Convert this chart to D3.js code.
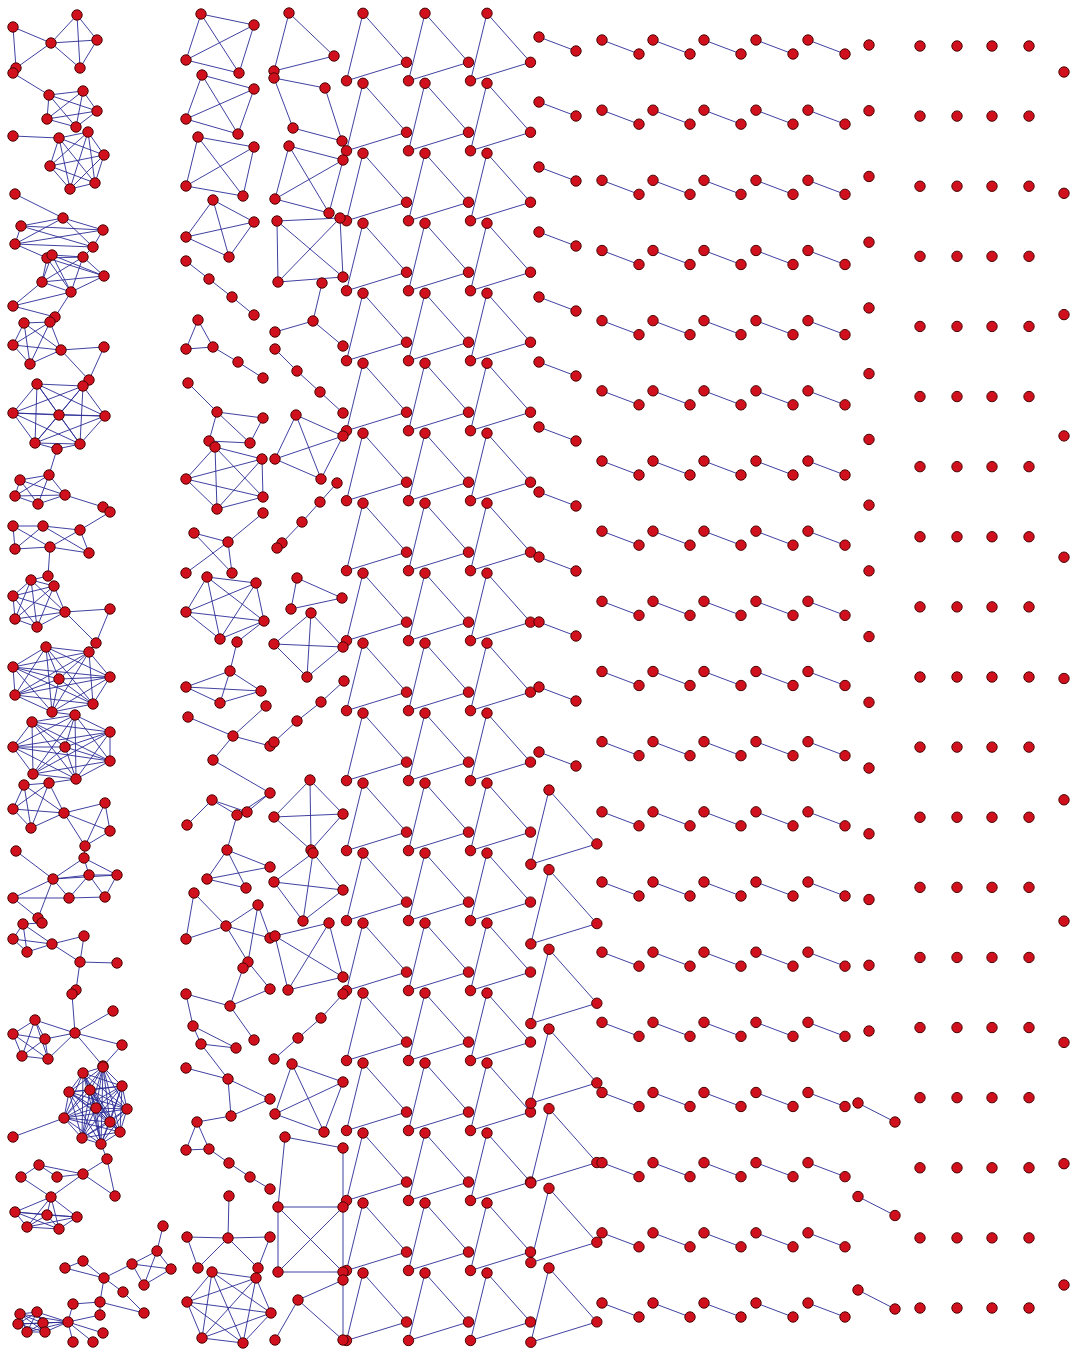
<!DOCTYPE html>
<html>
<head>
<meta charset="utf-8">
<script src="https://cdn.jsdelivr.net/npm/d3@7"></script>
<style>
  body { margin: 0; background: #fff; }
  svg { display: block; }
</style>
</head>
<body>
<svg id="chart"></svg>
<script>
const width = 1072, height = 1351;

// ---- data -------------------------------------------------------------
// regular part of the graph: how many components of each kind per column
const triangleColumnCounts = [19, 19, 19, 7];
const dyadColumnCounts = [12, 19, 19, 19, 19, 19, 3];
const isolateColumnCounts = [16, 19, 19, 19, 19, 11];

// irregular components: node layout coordinates "x,y", edges "i-j",
// cliques "i j k ..." (groups split by |)
const clusters = [
  // left column
  { n: "13,27 51,43 77,15 97,40 80,68 16,68 13,73 49,95 83,91 97,111 76,127 47,119", e: "0-1 0-5 1-2 1-3 1-4 1-5 2-3 2-4 3-4 6-7", k: "7 8 9 10 11" },
  { n: "13,136 59,138 88,132 104,155 95,183 70,189 50,166", e: "0-1", k: "1 2 3 4 5 6" },
  { n: "15,194 63,218 21,226 103,230 15,244 93,247", e: "0-1", k: "1 2 3 4 5" },
  { n: "47,258 52,255 83,257 104,276 42,282 71,292 13,306 55,317", e: "4-6 5-6 6-7 5-7", k: "0 1 2 3 4 5" },
  { n: "50,322 24,323 13,345 61,350 30,364 104,347 89,380", e: "3-5 5-6 3-6", k: "0 1 2 3 4" },
  { n: "37,384 83,386 13,413 59,415 105,416 35,443 80,444 57,449", e: "5-7 6-7", k: "0 1 2 3 4 5 6" },
  { n: "49,475 20,480 15,496 65,495 38,504 103,507 110,512", e: "3-5 5-6", k: "0 1 2 3 4" },
  { n: "13,526 43,526 80,530 15,549 50,547 89,553 48,576", e: "0-1 1-2 0-4 1-5 2-4 2-5 3-4 4-5 4-6 1-3 0-3" },
  { n: "31,580 54,586 13,596 65,612 15,619 37,627 110,609 96,643", e: "3-6 6-7 3-7", k: "0 1 2 3 4 5" },
  { n: "46,647 89,652 13,667 59,679 110,677 15,695 93,704 52,712", k: "0 1 2 3 4 5 6 7" },
  { n: "32,722 75,715 110,732 13,747 65,747 110,761 33,774 76,779", k: "0 1 2 3 4 5 6 7" },
  { n: "24,785 49,783 13,809 31,828 64,813 105,803 110,831 85,846", k: "0 1 2 3 4|4 5 6 7" },
  { n: "16,851 84,858 53,879 89,875 117,875 13,898 69,898 105,897 38,918 42,923", e: "0-2 1-2 1-3 1-4 2-3 2-4 2-5 2-6 2-8 3-4 3-6 3-7 4-7 5-6 6-7 8-9 5-8" },
  { n: "23,924 13,939 27,952 52,944 84,936 80,962 117,963 76,990 72,994", e: "3-4 3-5 4-5 5-6 5-7 7-8", k: "0 1 2 3" },
  { n: "35,1020 13,1034 45,1039 22,1056 48,1059 75,1033 113,1011 122,1045 103,1066", e: "0-5 2-5 4-5 5-6 5-7 5-8 7-8", k: "0 1 2 3 4" },
  { n: "83,1073 103,1067 122,1086 69,1092 96,1108 127,1109 64,1118 120,1132 82,1138 101,1144 13,1137 90,1090 110,1122", e: "6-10", k: "0 1 2 3 4 5 6 7 8 9 11 12" },
  { n: "107,1159 39,1165 21,1177 57,1177 83,1174 115,1196 51,1197 15,1212 47,1215 77,1217 27,1227 59,1229", e: "0-4 0-5 4-5 1-2 1-3 1-4 2-6 3-4 4-6", k: "6 7 8 9 10 11" },
  { n: "163,1226 157,1251 132,1264 171,1269 144,1285 83,1261 65,1268 104,1278 123,1292 100,1302 144,1313 73,1304 100,1315 68,1322 103,1333 73,1342 93,1342 20,1314 37,1312 18,1324 43,1323 27,1332 45,1332",
    e: "0-1 1-2 1-3 1-4 2-3 2-4 3-4 2-7 5-6 5-7 6-7 7-8 7-9 8-10 9-10 9-11 9-12 11-13 12-13 13-14 13-15 13-16 13-17 13-18 13-19 13-20 13-21 13-22", k: "17 18 19 20 21 22" },
  // second column
  { n: "201,14 254,25 186,60 239,73", k: "0 1 2 3" },
  { n: "202,75 254,89 186,119 238,134", k: "0 1 2 3" },
  { n: "198,137 254,147 186,186 243,196", k: "0 1 2 3" },
  { n: "213,200 254,222 186,237 229,257", k: "0 1 2 3" },
  { n: "186,261 209,279 232,297 254,315", e: "0-1 1-2 2-3" },
  { n: "198,320 186,349 213,347 238,362 263,378", e: "0-1 0-2 1-2 2-3 3-4" },
  { n: "188,383 217,412 263,418 209,441 250,443 215,447 262,459 186,479 263,497 217,509", e: "0-1 1-2 1-4 1-3 2-4 3-4 3-5", k: "5 6 7 8 9" },
  { n: "263,513 194,533 228,542 186,573 232,573", e: "0-2 1-2 1-4 2-3 2-4" },
  { n: "207,577 256,583 186,612 264,621 220,639 237,642", e: "3-5", k: "0 1 2 3 4" },
  { n: "230,671 186,687 261,691 220,703", k: "0 1 2 3" },
  { n: "266,706 188,717 233,736 270,746 213,760 212,800 270,793 237,815 247,812 187,825", e: "0-2 1-2 2-3 2-4 4-6 5-8 6-8 7-8 5-9 5-7 6-7" },
  { n: "227,850 270,867 207,879 246,888", e: "0-1 0-2 0-3 1-2 2-3" },
  { n: "194,893 258,905 186,939 226,926 270,938 248,962 243,968 270,989 186,994 230,1006 193,1026 254,1040 201,1044 236,1048 186,1068 228,1079 270,1099 231,1116 197,1122 186,1150 209,1149 229,1163 250,1177 270,1189",
    e: "0-2 0-3 2-3 3-1 1-4 1-5 3-5 3-4 5-7 6-9 8-9 8-10 9-7 9-11 10-13 12-13 12-10 12-15 15-14 15-16 15-17 16-17 17-18 19-20 19-18 18-20 20-21 21-22 22-23" },
  { n: "229,1196 187,1237 228,1238 270,1237 198,1268 258,1268", e: "0-2 1-2 2-3 2-4 2-5 1-4 3-5" },
  { n: "212,1272 256,1278 187,1302 271,1313 202,1338 243,1343", k: "0 1 2 3 4 5" },
  // third column
  { n: "289,13 334,56 274,71", k: "0 1 2" },
  { n: "274,78 325,88 293,128 342,141", e: "0-1 0-2 1-3 2-3" },
  { n: "289,146 343,160 275,199 329,213", k: "0 1 2 3" },
  { n: "277,221 340,218 278,282 343,277", k: "0 1 2 3" },
  { n: "322,283 313,321 275,332 343,346", e: "0-1 1-2 1-3" },
  { n: "275,349 297,371 320,392 343,413", e: "0-1 1-2 2-3" },
  { n: "296,415 343,436 275,459 321,479", k: "0 1 2 3" },
  { n: "337,483 320,502 302,522 282,543 277,548", e: "0-1 1-2 2-3 3-4" },
  { n: "297,578 342,598 291,609", k: "0 1 2" },
  { n: "311,613 274,644 343,647 307,677", k: "0 1 2 3" },
  { n: "344,681 321,702 297,721 274,742", e: "0-1 1-2 2-3" },
  { n: "310,780 274,817 343,814 311,850", k: "0 1 2 3" },
  { n: "313,853 274,882 343,890 303,921", k: "0 1 2 3" },
  { n: "329,923 275,936 343,977 288,990", k: "0 1 2 3" },
  { n: "343,994 321,1018 298,1038 274,1059", e: "0-1 1-2 2-3" },
  { n: "292,1064 343,1082 275,1114 324,1132", k: "0 1 2 3" },
  { n: "285,1137 343,1148 278,1207 343,1207 278,1272 343,1272", e: "0-1 0-2 1-3", k: "2 3 4 5" },
  { n: "343,1280 298,1300 275,1340 343,1340", e: "0-1 1-2 1-3 0-3" }
];

// links between neighbouring clusters "cluster:node-cluster:node"
const bridges = ["2:4-3:0", "2:5-3:2", "3:7-4:0", "4:6-5:1", "5:7-6:0", "6:6-7:2", "7:6-8:0",
  "8:7-9:1", "9:7-10:1", "10:7-11:1", "11:7-12:1", "12:9-13:0", "13:8-14:5", "14:8-15:1",
  "15:9-16:0", "26:5-27:0", "28:7-29:0", "31:5-32:1"];

// ---- layout -----------------------------------------------------------
const x = d3.scaleLinear().domain([0, 1072]).range([0, width]);
const y = d3.scaleLinear().domain([0, 1351]).range([0, height]);

const triangleLayout = [
  { x: 363, y0: 13.3, y1: 1273, s: 1 },
  { x: 425, y0: 13.3, y1: 1273, s: 1 },
  { x: 487, y0: 13.3, y1: 1273, s: 1 },
  { x: 549, y0: 790, y1: 1268, s: 1.1 }
];
const triangleShape = [[0, 0], [43.5, 49], [-16.5, 67.5]];

const dyadLayout = [
  { x: 539, y0: 37, y1: 752, d: [37, 14] },
  { x: 602, y0: 40, y1: 1303, d: [37, 14] },
  { x: 653, y0: 40, y1: 1303, d: [37, 14] },
  { x: 704, y0: 40, y1: 1303, d: [37, 14] },
  { x: 756, y0: 40, y1: 1303, d: [37, 14] },
  { x: 808, y0: 40, y1: 1303, d: [37, 14] },
  { x: 858, y0: 1103, y1: 1290, d: [37, 19] }
];

const isolateLayout = [
  { x: 869, y0: 45, y1: 1031 },
  { x: 920, y0: 46, y1: 1308 },
  { x: 957, y0: 46, y1: 1308 },
  { x: 992, y0: 46, y1: 1308 },
  { x: 1029, y0: 46, y1: 1308 },
  { x: 1064, y0: 72, y1: 1285 }
];

const nodes = [];
const links = [];

function addComponent(points, pairs) {
  const base = nodes.length;
  points.forEach(p => nodes.push({ x: p[0], y: p[1] }));
  pairs.forEach(([a, b]) => links.push({ source: nodes[base + a], target: nodes[base + b] }));
  return base;
}

// regular columns
triangleColumnCounts.forEach((count, c) => {
  const L = triangleLayout[c];
  const row = d3.scaleLinear().domain([0, count - 1]).range([L.y0, L.y1]);
  d3.range(count).forEach(i => {
    const pts = triangleShape.map(([dx, dy]) => [L.x + dx * L.s, row(i) + dy * L.s]);
    addComponent(pts, [[0, 1], [1, 2], [0, 2]]);
  });
});

dyadColumnCounts.forEach((count, c) => {
  const L = dyadLayout[c];
  const row = d3.scaleLinear().domain([0, Math.max(count - 1, 1)]).range([L.y0, L.y1]);
  d3.range(count).forEach(i => {
    addComponent([[L.x, row(i)], [L.x + L.d[0], row(i) + L.d[1]]], [[0, 1]]);
  });
});

isolateColumnCounts.forEach((count, c) => {
  const L = isolateLayout[c];
  const row = d3.scaleLinear().domain([0, count - 1]).range([L.y0, L.y1]);
  d3.range(count).forEach(i => addComponent([[L.x, row(i)]], []));
});

// irregular clusters
const clusterBase = clusters.map(c => {
  const pts = c.n.trim().split(/\s+/).map(p => p.split(",").map(Number));
  const pairs = c.e ? c.e.trim().split(/\s+/).map(p => p.split("-").map(Number)) : [];
  if (c.k) {
    c.k.split("|").forEach(group => {
      const k = group.trim().split(/\s+/).map(Number);
      k.forEach((a, i) => k.slice(i + 1).forEach(b => pairs.push([a, b])));
    });
  }
  return addComponent(pts, pairs);
});

bridges.forEach(b => {
  const [s, t] = b.split("-").map(part => part.split(":").map(Number));
  links.push({ source: nodes[clusterBase[s[0]] + s[1]], target: nodes[clusterBase[t[0]] + t[1]] });
});

// ---- draw -------------------------------------------------------------
const svg = d3.select("#chart")
  .attr("width", width)
  .attr("height", height)
  .style("background", "#fff");

svg.append("g")
  .attr("stroke", "#2b2b96")
  .attr("stroke-width", 0.9)
  .selectAll("line")
  .data(links)
  .join("line")
  .attr("x1", d => x(d.source.x))
  .attr("y1", d => y(d.source.y))
  .attr("x2", d => x(d.target.x))
  .attr("y2", d => y(d.target.y));

svg.append("g")
  .attr("fill", "#d0101c")
  .attr("stroke", "#4a0505")
  .attr("stroke-width", 1)
  .selectAll("circle")
  .data(nodes)
  .join("circle")
  .attr("cx", d => x(d.x))
  .attr("cy", d => y(d.y))
  .attr("r", 5.2);
</script>
</body>
</html>
